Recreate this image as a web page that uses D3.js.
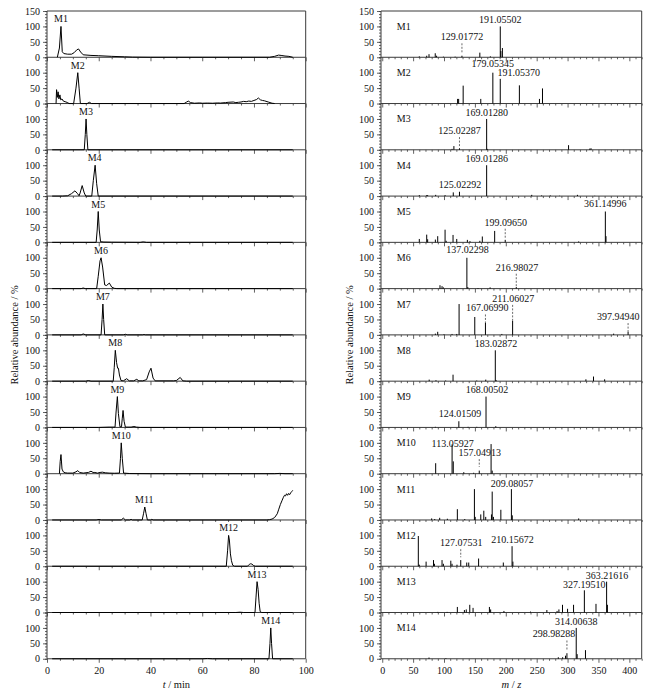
<!DOCTYPE html>
<html><head><meta charset="utf-8">
<script src="https://cdn.jsdelivr.net/npm/d3@7"></script>
<style>body{margin:0;background:#fff}svg{display:block;font-family:"Liberation Serif","Times New Roman",serif}</style>
</head><body><svg id="c" width="666" height="689"></svg>
<script>
// ---------- DATA ----------
const compoundNames = ["M1","M2","M3","M4","M5","M6","M7","M8","M9","M10","M11","M12","M13","M14"];

// chromatograms: [t (min), relative abundance (%)]
const chromM1 = [[4.0,0],[4.8,30],[5.4,100],[5.9,18],[6.5,12],[8,10],[9.5,10],[10.5,15],[11.5,24],[12.2,27],[13,17],[14,8],[17,6],[20,5],[25,3],[30,1.5],[33,0.5],[40,0],[60,0],[86,0],[88,3],[89.5,7],[90.5,6],[92,4],[93.5,3],[95,0]];
const chromM2 = [[3.5,0],[3.7,45],[4.0,20],[4.3,38],[4.6,15],[5,28],[5.3,12],[5.8,15],[6.3,8],[7,6],[8,3],[8.5,0],[10.3,0],[11.2,50],[11.9,100],[12.4,50],[12.9,0],[15.5,0],[16.4,4],[17.2,0],[53,0],[54,5],[54.6,8],[55.5,3],[57,1],[59,2],[60,1],[62,1.5],[64,1],[66,2],[67,1.5],[69,3],[70,4],[72,5],[73,3],[74,4],[75,5],[76,7],[77,6],[78,8],[79,7],[80,10],[81,13],[81.7,18],[82.5,12],[83.3,10],[84,9],[85.5,5],[87,1],[88,0]];
const chromM3 = [[2,0],[14.4,0],[14.8,50],[15.1,100],[15.4,50],[15.8,0],[95,0]];
const chromM4 = [[2,0],[6,0],[8,1],[9.5,8],[10.8,17],[11.8,8],[12.4,1],[12.8,10],[13.6,34],[14.4,10],[15,0],[17.3,0],[17.9,50],[18.6,100],[19.2,40],[19.8,0],[95,0]];
const chromM5 = [[2,0],[19,0],[19.4,40],[19.8,100],[20.2,40],[20.7,2],[22,1],[25,0.5],[36,0],[37.2,1.5],[38.5,0],[95,0]];
const chromM6 = [[2,0],[13.2,0],[14,2],[14.8,0],[19.2,0],[19.8,40],[20.5,90],[20.9,100],[21.5,70],[22.3,12],[23,10],[24.1,18],[25,5],[26,1],[27,0],[95,0]];
const chromM7 = [[2,0],[13.2,0],[14,3],[15,0],[20.9,0],[21.3,50],[21.6,100],[21.9,50],[22.3,0],[29.5,0],[30.3,2],[31,0],[37,0],[37.5,1],[38,0],[95,0]];
const chromM8 = [[2,0],[15,0],[16,2],[17,0],[25.6,0],[26,45],[26.4,100],[26.9,60],[27.3,42],[27.6,42],[28,20],[28.6,2],[29.5,1],[30.8,8],[31.8,1],[33.5,1],[34.7,6],[35.5,1],[37,1],[38.5,5],[39.5,30],[40.2,42],[41,10],[41.8,1],[49,1],[50,2],[51.5,12],[52.5,1],[54,0],[95,0]];
const chromM9 = [[2,0],[20,0],[24,1],[26.3,1],[26.7,50],[27.2,100],[27.6,45],[28.2,2],[28.8,2],[29.1,30],[29.4,55],[29.8,20],[30.3,1],[32.5,1],[33.6,3],[34.6,1],[36,0],[95,0]];
const chromM10 = [[4.8,0],[5.1,40],[5.4,62],[5.8,15],[6.3,6],[7,3],[8,2],[10,2],[11.2,6],[11.9,10],[12.6,4],[14,2],[16,4],[17,8],[17.8,4],[18.5,4],[19.5,2],[20.5,4],[21.4,5],[22.5,3],[24,2],[26,1.5],[28,2],[28.4,50],[28.7,100],[29.1,50],[29.6,2],[32,0.5],[40,0],[88,0],[90,1],[92,0],[95,0]];
const chromM11 = [[2,0],[19,0],[20.1,1.5],[21,0],[28.7,0],[29.5,6],[30.3,0],[32,0],[32.5,2],[33,0],[36.8,0],[37.3,20],[37.8,42],[38.3,20],[38.8,0],[40,0],[40.5,2],[41,0],[85,0],[86,1],[87,3],[88,8],[89,20],[89.6,35],[90.2,50],[90.8,62],[91.3,72],[91.8,80],[92.2,78],[92.6,85],[93,80],[93.4,86],[93.8,82],[94.2,88],[94.6,92],[95,96]];
const chromM12 = [[2,0],[69.3,0],[69.8,50],[70.2,100],[70.5,85],[70.9,40],[71.3,18],[71.8,3],[72.5,0],[77.5,0],[78.2,6],[78.7,8],[79.2,7],[79.9,2],[80.5,0],[95,0]];
const chromM13 = [[2,0],[73,0],[74.6,1],[76,0],[80.4,0],[80.8,50],[81.2,100],[81.6,75],[82,30],[82.4,3],[83,0],[95,0]];
const chromM14 = [[2,0],[60,0],[62,1],[64,0],[85.8,0],[86.2,50],[86.5,100],[86.8,50],[87.2,0],[95,0]];

// peak label anchor for each chromatogram: retention time and peak height
const peakLabelT = [5.4, 11.9, 15.1, 18.4, 19.8, 20.9, 21.6, 26.4, 27.2, 28.7, 37.6, 70.2, 81.2, 86.5];
const peakLabelV = [100, 100, 100, 100, 100, 100, 100, 100, 100, 100, 42, 100, 100, 100];

// mass spectra: [m/z, relative abundance (%)]
const specM1 = [[60,3],[72,5],[75.7,10],[85.8,13],[88,5],[99,2],[118,2],[129.02,5],[158,15],[175,3],[191.06,100],[192.06,20],[194.5,30]];
const specM2 = [[122,15],[123.7,15],[131,58],[159.5,15],[179.05,100],[191.05,80],[222,59],[254.5,15],[259.4,49]];
const specM3 = [[113,3],[116,12],[125.02,5],[169.01,100],[170,3],[301.6,15],[336,4],[338,5]];
const specM4 = [[60,3],[72,3],[73.5,3],[86.5,4],[101.7,3],[115,12],[125.02,14],[169.01,100],[242,4],[258,2],[272,2],[287,1],[316,4],[344,1]];
const specM5 = [[60,11],[72,25],[73.5,10],[86,9],[89.8,20],[101.7,41],[103.5,5],[114.6,24],[120.6,11],[137.8,8],[142,4],[158,5],[162,19],[182,37],[199.1,8],[318,3],[361.15,100],[362.2,20]];
const specM6 = [[93.5,11],[96.8,8],[99,4],[137.02,100],[138.5,5],[155,2],[174.6,4],[216.98,5]];
const specM7 = [[86,4],[89.8,10],[100,2],[113,3],[120.6,3],[124.4,100],[149.8,58],[167.07,40],[193.6,3],[211.06,45],[374.6,4],[397.95,10]];
const specM8 = [[76,5],[87,3],[102.7,2],[114.6,21],[153,2],[167.6,5],[183.03,100],[184.5,3],[329.7,6],[342,15],[360,6]];
const specM9 = [[86,2],[124.02,20],[139,2],[153,2],[168.01,100],[183.8,4]];
const specM10 = [[86.5,34],[113.06,95],[115,40],[132,5],[148,3],[157.05,10],[176.2,96],[178,10]];
const specM11 = [[80,5],[85,3],[93,7],[105.4,4],[121.6,35],[133.6,3],[149.2,100],[150.5,10],[159.5,18],[164.4,30],[167.5,10],[176.8,18],[178,92],[180,10],[192,33],[209.08,100],[210.5,15],[318,5]];
const specM12 = [[58.4,98],[60,5],[71,15],[83,20],[84.5,8],[96.8,20],[99,8],[111,18],[113,8],[121,5],[127.08,20],[136.8,12],[140,12],[156,25],[196,12],[210.16,65],[211.5,15]];
const specM13 = [[90,2],[105,2],[121.6,18],[133,8],[136,10],[141.7,25],[147,15],[173.5,18],[175.5,10],[197,5],[240,3],[266.5,8],[283,5],[286,10],[291.8,25],[300,12],[309.7,25],[327.2,72],[346,28],[363.22,100],[364.5,25]];
const specM14 = [[75.7,4],[103,2],[285,5],[292,5],[296.7,10],[298.98,18],[314.01,100],[315.5,15],[329,28]];

// ion annotations: [m/z of ion, label text, label m/z centre, label baseline (%), leader end (%) or null]
const annM1 = [[191.06,"191.05502",191,112,null],[129.02,"129.01772",129,55,15]];
const annM2 = [[179.05,"179.05345",179,119,null],[191.05,"191.05370",221,89,null]];
const annM3 = [[169.01,"169.01280",169,111,null],[125.02,"125.02287",125,51,12]];
const annM4 = [[169.01,"169.01286",169,110,null],[125.02,"125.02292",126,25,null]];
const annM5 = [[361.15,"361.14996",361,113,null],[199.1,"199.09650",200,54,10]];
const annM6 = [[137.02,"137.02298",138,114,null],[216.98,"216.98027",218,58,6]];
const annM7 = [[211.06,"211.06027",212,107,45],[167.07,"167.06990",170,76,40],[397.95,"397.94940",382,48,10]];
const annM8 = [[183.03,"183.02872",184,111,null]];
const annM9 = [[168.01,"168.00502",169.5,110,null],[124.02,"124.01509",126,35,null]];
const annM10 = [[113.06,"113.05927",114,85,null],[157.05,"157.04913",158,57,22]];
const annM11 = [[209.08,"209.08057",210,108,null]];
const annM12 = [[127.08,"127.07531",128,65,29],[210.16,"210.15672",211,76,null]];
const annM13 = [[363.22,"363.21616",364,110,null],[327.2,"327.19510",327,80,null]];
const annM14 = [[314.01,"314.00638",314,111,null],[298.98,"298.98288",278,69,28]];

const yTickMajor = [0, 50, 100];
const xTickLeftMajor = [0, 20, 40, 60, 80, 100];
const xTickRightMajor = [0, 50, 100, 150, 200, 250, 300, 350, 400];

const chroms = [chromM1,chromM2,chromM3,chromM4,chromM5,chromM6,chromM7,chromM8,chromM9,chromM10,chromM11,chromM12,chromM13,chromM14];
const spectra = [specM1,specM2,specM3,specM4,specM5,specM6,specM7,specM8,specM9,specM10,specM11,specM12,specM13,specM14];
const anns = [annM1,annM2,annM3,annM4,annM5,annM6,annM7,annM8,annM9,annM10,annM11,annM12,annM13,annM14];

// ---------- DRAW ----------
const svg = d3.select("#c");
const top0 = 11, ph = 46.27, n = 14;
const frameColor = "#3a3a3a", ink = "#111";
const xL = d3.scaleLinear().domain([0,100]).range([47,305.7]);
const xR = d3.scaleLinear().domain([-2,420]).range([381,641.7]);
const yS = i => { const b = top0 + (i+1)*ph; return d3.scaleLinear().domain([0,150]).range([b, b-ph]); };
const fs = 10;

function styleAxis(g){
  g.select(".domain").remove();
  g.selectAll(".tick line").attr("stroke", frameColor).attr("stroke-width",0.8);
  g.selectAll(".tick text").attr("fill", ink).attr("font-size", fs).attr("font-family","Liberation Serif");
}

function column(x, xMinorStep, xMajor){
  const [x0, x1] = x.range();
  for (let i = 0; i < n; i++){
    const y = yS(i);
    const g = svg.append("g");
    g.append("g").attr("transform",`translate(${x0},0)`)
      .call(d3.axisLeft(y).tickValues(d3.range(0,151,10)).tickSize(2).tickFormat("")).call(styleAxis);
    g.append("g").attr("transform",`translate(${x0},0)`)
      .call(d3.axisLeft(y).tickValues(i===0 ? yTickMajor.concat([150]) : yTickMajor).tickSize(4).tickPadding(3)).call(styleAxis);
    const minorVals = d3.range(Math.max(0, x.domain()[0]), x.domain()[1]+0.001, xMinorStep).filter(v=>!xMajor.includes(v));
    g.append("g").attr("transform",`translate(0,${y(0)})`)
      .call(d3.axisBottom(x).tickValues(minorVals).tickSize(2).tickFormat("")).call(styleAxis);
    const maj = g.append("g").attr("transform",`translate(0,${y(0)})`)
      .call(d3.axisBottom(x).tickValues(xMajor).tickSize(4).tickPadding(4)
        .tickFormat(i===n-1 ? d3.format("d") : ""));
    styleAxis(maj);
    g.append("line").attr("x1",x0).attr("x2",x1).attr("y1",y(0)).attr("y2",y(0))
      .attr("stroke",frameColor).attr("stroke-width",1);
  }
  svg.append("line").attr("x1",x0).attr("x2",x1).attr("y1",top0).attr("y2",top0).attr("stroke",frameColor);
  svg.append("line").attr("x1",x0).attr("x2",x0).attr("y1",top0).attr("y2",top0+n*ph).attr("stroke",frameColor);
  svg.append("line").attr("x1",x1).attr("x2",x1).attr("y1",top0).attr("y2",top0+n*ph).attr("stroke",frameColor);
}

column(xL, 5, xTickLeftMajor);
column(xR, 10, xTickRightMajor);

// chromatograms
chroms.forEach((data, i) => {
  const y = yS(i);
  const line = d3.line().x(d => xL(d[0])).y(d => y(d[1]));
  svg.append("path").attr("d", line(data)).attr("fill","none").attr("stroke","#000").attr("stroke-width",1);
  svg.append("text").attr("x", xL(peakLabelT[i])).attr("y", y(peakLabelV[i]) - 4)
    .attr("text-anchor","middle").attr("font-size",fs).attr("fill",ink).text(compoundNames[i]);
});

// spectra
spectra.forEach((data, i) => {
  const y = yS(i);
  svg.append("g").selectAll("line").data(data).join("line")
    .attr("x1", d => xR(d[0])).attr("x2", d => xR(d[0]))
    .attr("y1", y(0)).attr("y2", d => y(d[1]))
    .attr("stroke","#000").attr("stroke-width",1);
  svg.append("text").attr("x", xR(23.5)).attr("y", y(100)).attr("dy","0.35em")
    .attr("font-size",fs).attr("fill",ink).text(compoundNames[i]);
  anns[i].forEach(a => {
    const [mz, txt, lx, ly, leadTo] = a;
    svg.append("text").attr("x", xR(lx)).attr("y", y(ly)).attr("text-anchor","middle")
      .attr("font-size",fs).attr("fill",ink).text(txt);
    if (leadTo !== null){
      svg.append("line").attr("x1",xR(mz)).attr("x2",xR(mz))
        .attr("y1", y(ly)+3).attr("y2", y(leadTo))
        .attr("stroke","#444").attr("stroke-width",0.8).attr("stroke-dasharray","2,1.5");
    }
  });
});

// axis titles
const midY = top0 + n*ph/2;
svg.append("text").attr("transform",`translate(14,${midY}) rotate(-90)`).attr("text-anchor","middle")
  .attr("dy","0.35em").attr("font-size",10.5).attr("fill",ink).text("Relative abundance / %");
svg.append("text").attr("transform",`translate(349,${midY}) rotate(-90)`).attr("text-anchor","middle")
  .attr("dy","0.35em").attr("font-size",10.5).attr("fill",ink).text("Relative abundance / %");

const tl = svg.append("text").attr("x", (xL.range()[0]+xL.range()[1])/2).attr("y", 687.5)
  .attr("text-anchor","middle").attr("font-size",10.5).attr("fill",ink);
tl.append("tspan").attr("font-style","italic").text("t");
tl.append("tspan").text(" / min");

const tr = svg.append("text").attr("x", (xR.range()[0]+xR.range()[1])/2).attr("y", 687.5)
  .attr("text-anchor","middle").attr("font-size",10.5).attr("fill",ink);
tr.append("tspan").attr("font-style","italic").text("m");
tr.append("tspan").text(" / ");
tr.append("tspan").attr("font-style","italic").text("z");
</script>
</body></html>
